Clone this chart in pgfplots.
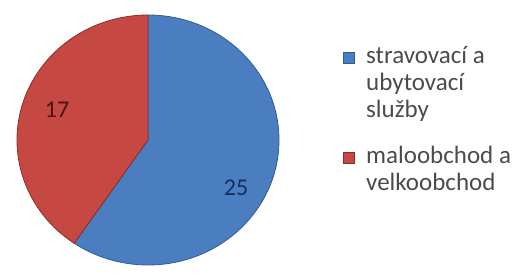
\documentclass[border=0pt]{standalone}
\usepackage{pgfplots}
\pgfplotsset{compat=1.18}
\usepackage{pgfplotstable}
\usepackage{fontspec}
\setmainfont{Carlito}
\definecolor{pieblue}{RGB}{74,126,192}
\definecolor{piered}{RGB}{198,72,66}
\definecolor{bluedge}{RGB}{50,90,150}
\definecolor{rededge}{RGB}{140,45,40}
\definecolor{lbl17}{RGB}{70,20,20}
\definecolor{lbl25}{RGB}{25,45,95}
\definecolor{legtext}{RGB}{75,75,75}
\pgfplotstableread{
name value
stravovaci 25
maloobchod 17
}\piedata
\begin{document}
\begin{tikzpicture}
\pgfplotstablegetelem{0}{value}\of\piedata \edef\va{\pgfplotsretval}
\pgfplotstablegetelem{1}{value}\of\piedata \edef\vb{\pgfplotsretval}
\pgfmathsetmacro\splitang{90-360*\va/(\va+\vb)}
\begin{axis}[x=1pt,y=1pt,scale only axis,xmin=0,xmax=515,ymin=0,ymax=280,
  y dir=reverse,hide axis,clip=true,at={(0,0)},anchor=south west]
\addplot[draw=none,forget plot] coordinates {(0,0) (515,280)};
\fill[pieblue,draw=bluedge,line width=0.8pt] (axis cs:148,140) -- ++(90:131pt and 125pt)
  arc[start angle=90,end angle=\splitang,x radius=131pt,y radius=125pt] -- cycle;
\fill[piered,draw=rededge,line width=0.8pt] (axis cs:148,140) -- ++(\splitang:131pt and 125pt)
  arc[start angle=\splitang,end angle=-270,x radius=131pt,y radius=125pt] -- cycle;
\node[font=\fontsize{24}{27}\selectfont,text=lbl17] at (axis cs:57,110) {\vb};
\node[font=\fontsize{24}{27}\selectfont,text=lbl25] at (axis cs:236,188) {\va};
\fill[pieblue,draw=bluedge,line width=0.5pt] (axis cs:343,52) rectangle (axis cs:354,63);
\fill[piered,draw=rededge,line width=0.5pt] (axis cs:343,152) rectangle (axis cs:354,163);
\begin{scope}[every node/.style={anchor=base west,inner sep=0pt,text=legtext,font=\fontsize{25}{27}\selectfont}]
\node at (axis cs:366,64) {stravovací a};
\node at (axis cs:366,91) {ubytovací};
\node at (axis cs:366,118) {služby};
\node at (axis cs:366,164) {maloobchod a};
\node at (axis cs:366,191) {velkoobchod};
\end{scope}
\end{axis}
\end{tikzpicture}
\end{document}
